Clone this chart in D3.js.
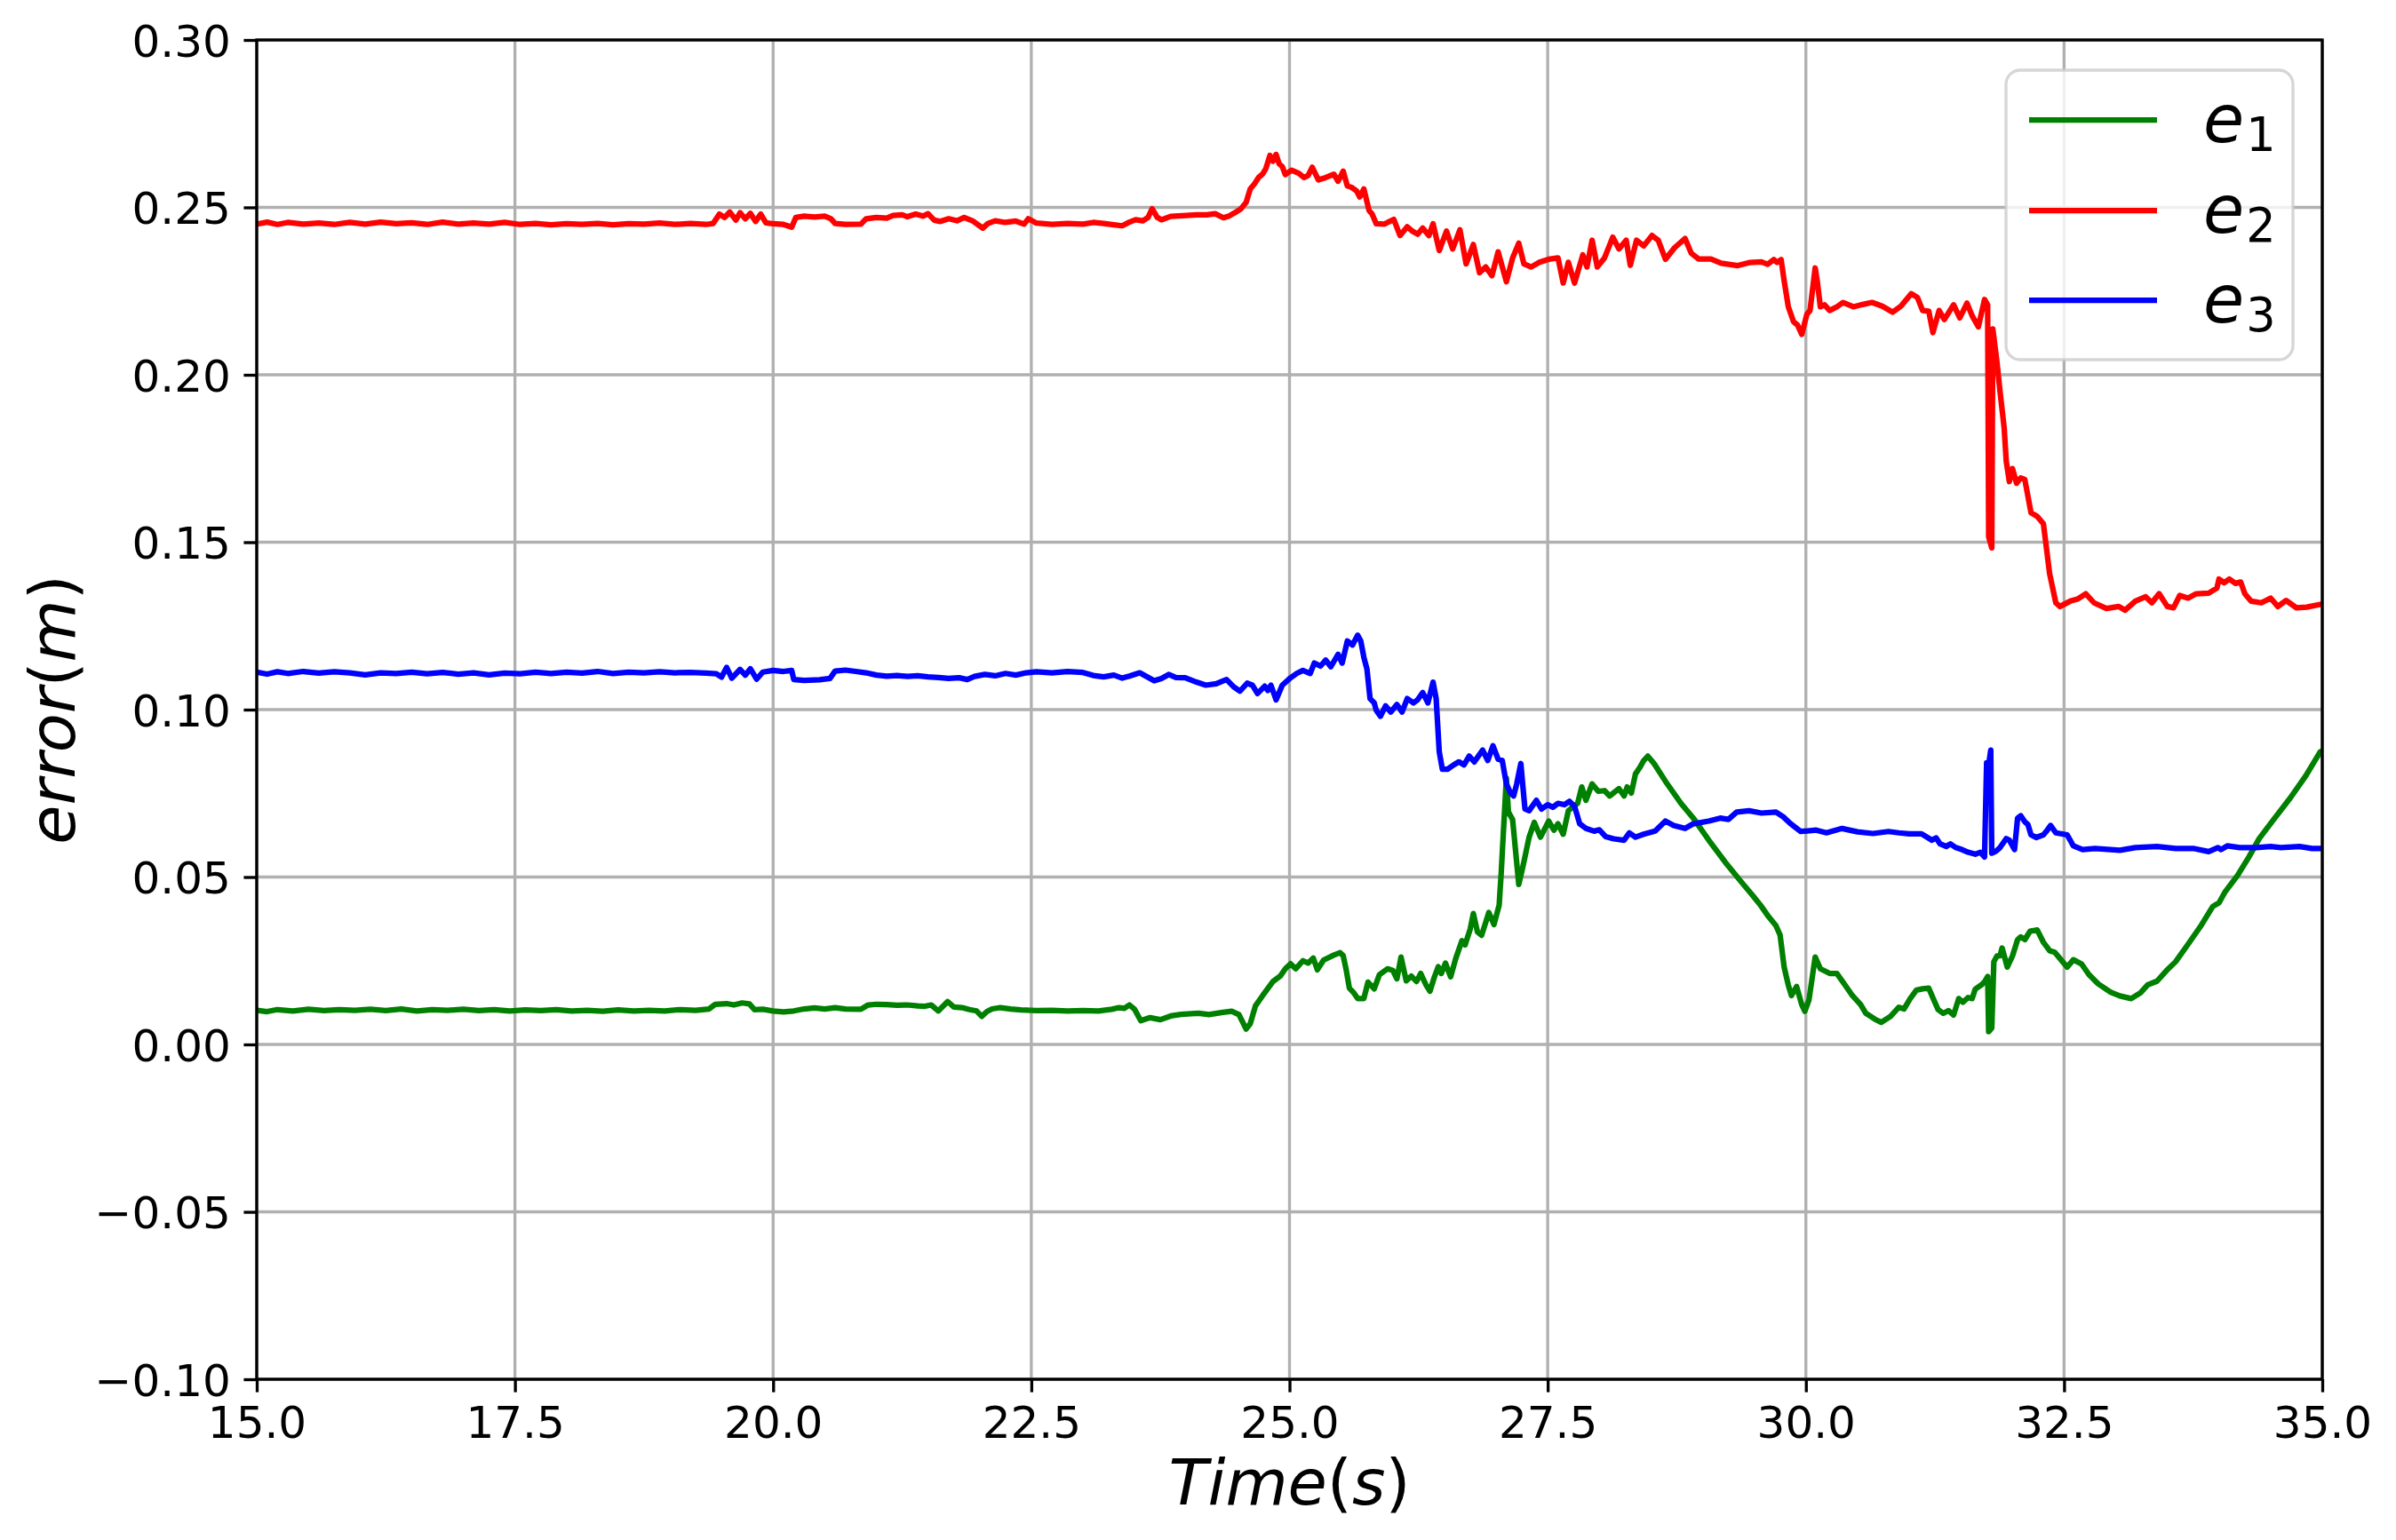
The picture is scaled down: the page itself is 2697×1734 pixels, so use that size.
<!DOCTYPE html>
<html>
<head>
<meta charset="utf-8">
<script src="https://cdn.jsdelivr.net/npm/d3@7"></script>
<style>
  html, body { margin: 0; padding: 0; background: #ffffff; }
  svg { display: block; }
</style>
</head>
<body>
<script>
// ---------------- DATA ----------------
const xTicks = [15.0, 17.5, 20.0, 22.5, 25.0, 27.5, 30.0, 32.5, 35.0];
const yTicks = [-0.10, -0.05, 0.00, 0.05, 0.10, 0.15, 0.20, 0.25, 0.30];
const seriesNames = ["e1", "e2", "e3"];
const seriesLabels = [["e", "1"], ["e", "2"], ["e", "3"]];
const seriesColors = ["#008000", "#ff0000", "#0000ff"];

// e1 (green): [time, error]
const e1Data = [
[15.0,0.0102],[15.1,0.0098],[15.2,0.0104],[15.35,0.0100],[15.5,0.0105],[15.65,0.0101],[15.8,0.0104],[15.95,0.0102],
[16.1,0.0105],[16.25,0.0101],[16.4,0.0106],[16.55,0.0100],[16.7,0.0104],[16.85,0.0102],[17.0,0.0105],[17.15,0.0101],
[17.3,0.0104],[17.45,0.0100],[17.6,0.0103],[17.75,0.0101],[17.9,0.0104],[18.05,0.0100],[18.2,0.0102],[18.35,0.0099],
[18.5,0.0103],[18.65,0.0100],[18.8,0.0102],[18.95,0.0100],[19.1,0.0104],[19.25,0.0102],[19.38,0.0106],[19.44,0.0120],
[19.55,0.0122],[19.62,0.0118],[19.7,0.0124],[19.77,0.0121],[19.82,0.0104],[19.9,0.0105],[20.0,0.0100],[20.1,0.0097],
[20.2,0.0100],[20.3,0.0106],[20.4,0.0109],[20.5,0.0106],[20.6,0.0110],[20.7,0.0106],[20.85,0.0105],[20.92,0.0118],
[21.0,0.0120],[21.1,0.0119],[21.2,0.0117],[21.3,0.0118],[21.4,0.0115],[21.47,0.0114],[21.53,0.0118],[21.6,0.0100],
[21.69,0.0128],[21.75,0.0112],[21.83,0.0110],[21.9,0.0104],[21.97,0.0100],[22.02,0.0084],[22.07,0.0098],[22.12,0.0106],
[22.2,0.0110],[22.3,0.0106],[22.4,0.0103],[22.55,0.0101],[22.7,0.0102],[22.85,0.0100],[23.0,0.0101],[23.15,0.0100],
[23.28,0.0105],[23.35,0.0110],[23.4,0.0108],[23.45,0.0118],[23.5,0.0105],[23.56,0.0071],[23.65,0.0080],[23.75,0.0074],
[23.85,0.0085],[23.95,0.0090],[24.05,0.0092],[24.12,0.0093],[24.22,0.0089],[24.34,0.0095],[24.44,0.0099],[24.51,0.0089],
[24.58,0.0046],[24.62,0.0062],[24.67,0.0115],[24.74,0.0146],[24.84,0.0188],[24.91,0.0204],[24.96,0.0226],[25.01,0.0241],
[25.06,0.0226],[25.13,0.0250],[25.18,0.0243],[25.23,0.0258],[25.27,0.0223],[25.33,0.0252],[25.43,0.0267],[25.49,0.0274],
[25.52,0.0265],[25.55,0.0221],[25.58,0.0168],[25.62,0.0155],[25.66,0.0137],[25.72,0.0137],[25.76,0.0186],[25.82,0.0166],
[25.87,0.0208],[25.95,0.0226],[26.0,0.0221],[26.04,0.0196],[26.08,0.0261],[26.13,0.0190],[26.18,0.0204],[26.23,0.0188],
[26.27,0.0212],[26.32,0.0179],[26.36,0.0159],[26.40,0.0199],[26.44,0.0232],[26.47,0.0212],[26.51,0.0243],[26.56,0.0202],
[26.61,0.0257],[26.67,0.0310],[26.70,0.0297],[26.75,0.0345],[26.78,0.0391],[26.82,0.0336],[26.86,0.0326],[26.93,0.0394],
[26.98,0.0358],[27.03,0.0416],[27.05,0.0513],[27.07,0.0628],[27.1,0.0795],[27.12,0.0694],[27.16,0.0672],[27.19,0.0575],
[27.22,0.0478],[27.26,0.0531],[27.32,0.0619],[27.37,0.0663],[27.43,0.0619],[27.51,0.0667],[27.56,0.0640],[27.6,0.0659],
[27.65,0.0628],[27.7,0.0698],[27.75,0.0711],[27.79,0.0720],[27.83,0.0769],[27.87,0.0729],[27.93,0.0778],[27.99,0.0756],
[28.05,0.0758],[28.1,0.0742],[28.19,0.0764],[28.24,0.0742],[28.27,0.0769],[28.31,0.0751],[28.35,0.0808],[28.39,0.0826],
[28.43,0.0848],[28.47,0.0861],[28.53,0.0839],[28.64,0.0786],[28.79,0.0720],[28.91,0.0676],[29.06,0.0610],[29.22,0.0544],
[29.37,0.0487],[29.49,0.0443],[29.56,0.0416],[29.64,0.0381],[29.71,0.0355],[29.75,0.0327],[29.79,0.0230],[29.83,0.0177],
[29.86,0.0146],[29.91,0.0173],[29.96,0.0119],[29.99,0.0099],[30.03,0.0133],[30.09,0.0261],[30.14,0.0226],[30.23,0.0212],
[30.3,0.0212],[30.38,0.0177],[30.45,0.0146],[30.53,0.0119],[30.58,0.0093],[30.67,0.0075],[30.73,0.0066],[30.82,0.0084],
[30.9,0.0111],[30.95,0.0106],[31.01,0.0137],[31.07,0.0162],[31.13,0.0166],[31.19,0.0168],[31.24,0.0132],[31.28,0.0104],
[31.33,0.0093],[31.38,0.0101],[31.43,0.0088],[31.48,0.0137],[31.52,0.0126],[31.57,0.0140],[31.61,0.0137],[31.64,0.0165],
[31.7,0.0178],[31.73,0.0187],[31.76,0.0203],[31.77,0.0038],[31.8,0.0049],[31.82,0.0247],[31.85,0.0264],[31.88,0.0265],
[31.9,0.0288],[31.95,0.0231],[32.0,0.0264],[32.05,0.0313],[32.08,0.0321],[32.12,0.0313],[32.17,0.0338],[32.24,0.0342],
[32.3,0.0305],[32.36,0.0280],[32.41,0.0275],[32.47,0.0253],[32.53,0.0231],[32.59,0.0253],[32.67,0.0240],[32.74,0.0209],
[32.83,0.0181],[32.95,0.0156],[33.04,0.0145],[33.15,0.0137],[33.24,0.0154],[33.31,0.0178],[33.4,0.0189],[33.49,0.0220],
[33.58,0.0247],[33.7,0.0299],[33.82,0.0352],[33.94,0.0412],[34.0,0.0423],[34.06,0.0456],[34.18,0.0505],[34.29,0.0560],
[34.39,0.0615],[34.54,0.0676],[34.69,0.0736],[34.84,0.0802],[34.98,0.0874],[35.0,0.0877]
];

// e2 (red)
const e2Data = [
[15.0,0.2450],[15.1,0.2456],[15.2,0.2449],[15.3,0.2455],[15.45,0.2450],[15.6,0.2453],[15.75,0.2449],[15.9,0.2455],
[16.05,0.2450],[16.2,0.2456],[16.35,0.2451],[16.5,0.2454],[16.65,0.2449],[16.8,0.2456],[16.95,0.2450],[17.1,0.2453],
[17.25,0.2450],[17.4,0.2455],[17.55,0.2449],[17.7,0.2452],[17.85,0.2448],[18.0,0.2451],[18.15,0.2449],[18.3,0.2452],
[18.45,0.2448],[18.6,0.2451],[18.75,0.2450],[18.9,0.2453],[19.05,0.2449],[19.2,0.2452],[19.35,0.2449],[19.42,0.2452],
[19.48,0.2480],[19.53,0.2470],[19.58,0.2486],[19.64,0.2462],[19.68,0.2484],[19.73,0.2466],[19.78,0.2482],[19.83,0.2458],
[19.88,0.2480],[19.93,0.2454],[20.0,0.2451],[20.1,0.2449],[20.18,0.2441],[20.22,0.2470],[20.3,0.2474],[20.4,0.2471],
[20.5,0.2474],[20.56,0.2466],[20.6,0.2452],[20.7,0.2449],[20.85,0.2450],[20.9,0.2466],[21.0,0.2470],[21.1,0.2468],
[21.16,0.2476],[21.25,0.2478],[21.3,0.2472],[21.38,0.2480],[21.45,0.2474],[21.5,0.2481],[21.56,0.2462],[21.62,0.2458],
[21.7,0.2466],[21.78,0.2460],[21.85,0.2470],[21.93,0.2460],[22.03,0.2438],[22.08,0.2452],[22.15,0.2460],[22.25,0.2455],
[22.35,0.2459],[22.43,0.2450],[22.47,0.2466],[22.55,0.2453],[22.7,0.2449],[22.85,0.2452],[23.0,0.2450],[23.1,0.2455],
[23.2,0.2452],[23.3,0.2448],[23.38,0.2445],[23.45,0.2456],[23.51,0.2463],[23.58,0.2460],[23.63,0.2470],[23.67,0.2496],
[23.72,0.2470],[23.76,0.2463],[23.85,0.2473],[24.0,0.2476],[24.1,0.2478],[24.2,0.2478],[24.28,0.2481],[24.36,0.2469],
[24.42,0.2475],[24.47,0.2484],[24.53,0.2496],[24.58,0.2515],[24.62,0.2555],[24.66,0.2570],[24.70,0.2589],[24.74,0.2600],
[24.77,0.2615],[24.81,0.2655],[24.84,0.2638],[24.87,0.2658],[24.9,0.2630],[24.93,0.2622],[24.96,0.2598],[25.02,0.2611],
[25.09,0.2602],[25.14,0.2589],[25.18,0.2595],[25.22,0.2620],[25.28,0.2582],[25.35,0.2589],[25.43,0.2599],[25.47,0.2578],
[25.52,0.2608],[25.56,0.2564],[25.6,0.2560],[25.65,0.2549],[25.68,0.2531],[25.72,0.2555],[25.77,0.2491],[25.8,0.2480],
[25.84,0.2451],[25.92,0.2450],[25.97,0.2458],[26.01,0.2464],[26.07,0.2416],[26.14,0.2442],[26.19,0.2429],[26.24,0.2420],
[26.29,0.2438],[26.35,0.2416],[26.39,0.2451],[26.45,0.2371],[26.52,0.2429],[26.58,0.2376],[26.65,0.2433],[26.71,0.2331],
[26.78,0.2389],[26.84,0.2305],[26.9,0.2322],[26.96,0.2296],[27.02,0.2367],[27.1,0.2278],[27.16,0.2349],[27.22,0.2393],
[27.27,0.2331],[27.34,0.2322],[27.42,0.2336],[27.51,0.2345],[27.6,0.2349],[27.65,0.2274],[27.7,0.2336],[27.76,0.2274],
[27.84,0.2358],[27.88,0.2322],[27.93,0.2402],[27.98,0.2322],[28.05,0.2349],[28.13,0.2411],[28.19,0.2376],[28.26,0.2402],
[28.30,0.2327],[28.36,0.2402],[28.43,0.2385],[28.51,0.2416],[28.57,0.2402],[28.64,0.2345],[28.73,0.2380],[28.83,0.2407],
[28.89,0.2363],[28.96,0.2346],[29.08,0.2346],[29.18,0.2333],[29.34,0.2326],[29.45,0.2335],[29.57,0.2337],[29.63,0.2330],
[29.69,0.2344],[29.72,0.2336],[29.76,0.2344],[29.79,0.2280],[29.83,0.2203],[29.88,0.2159],[29.92,0.2148],[29.96,0.2121],
[30.01,0.2181],[30.04,0.2192],[30.09,0.2319],[30.11,0.2280],[30.14,0.2203],[30.18,0.2209],[30.23,0.2192],[30.30,0.2203],
[30.36,0.2216],[30.46,0.2203],[30.55,0.2210],[30.64,0.2216],[30.74,0.2205],[30.84,0.2187],[30.92,0.2205],[31.02,0.2242],
[31.08,0.2231],[31.13,0.2192],[31.19,0.2190],[31.23,0.2126],[31.29,0.2192],[31.34,0.2165],[31.43,0.2209],[31.49,0.2170],
[31.56,0.2214],[31.61,0.2176],[31.67,0.2143],[31.73,0.2225],[31.76,0.2209],[31.77,0.1516],[31.80,0.1483],[31.81,0.2137],
[31.85,0.2038],[31.88,0.1950],[31.92,0.1841],[31.94,0.1742],[31.97,0.1681],[32.0,0.1720],[32.04,0.1676],[32.08,0.1692],
[32.12,0.1687],[32.18,0.1588],[32.24,0.1577],[32.3,0.1555],[32.36,0.1406],[32.42,0.1319],[32.46,0.1308],[32.56,0.1324],
[32.63,0.1330],[32.71,0.1346],[32.79,0.1319],[32.91,0.1302],[33.03,0.1308],[33.09,0.1297],[33.19,0.1324],[33.29,0.1337],
[33.35,0.1319],[33.42,0.1346],[33.5,0.1308],[33.56,0.1304],[33.62,0.1341],[33.7,0.1333],[33.78,0.1346],[33.9,0.1348],
[33.98,0.1363],[34.0,0.1390],[34.05,0.1379],[34.1,0.1390],[34.16,0.1377],[34.21,0.1381],[34.25,0.1346],[34.31,0.1324],
[34.41,0.1319],[34.5,0.1333],[34.57,0.1308],[34.65,0.1326],[34.75,0.1304],[34.85,0.1306],[34.96,0.1313],[35.0,0.1315]
];

// e3 (blue)
const e3Data = [
[15.0,0.1112],[15.1,0.1106],[15.2,0.1113],[15.3,0.1108],[15.45,0.1114],[15.6,0.1109],[15.75,0.1113],[15.9,0.1110],
[16.05,0.1104],[16.2,0.1110],[16.35,0.1108],[16.5,0.1112],[16.65,0.1107],[16.8,0.1111],[16.95,0.1106],[17.1,0.1110],
[17.25,0.1104],[17.4,0.1109],[17.55,0.1107],[17.7,0.1112],[17.85,0.1108],[18.0,0.1112],[18.15,0.1109],[18.3,0.1114],
[18.45,0.1108],[18.6,0.1112],[18.75,0.1110],[18.9,0.1113],[19.05,0.1110],[19.2,0.1111],[19.35,0.1109],[19.45,0.1107],
[19.5,0.1097],[19.55,0.1126],[19.6,0.1094],[19.68,0.1120],[19.73,0.1103],[19.78,0.1122],[19.84,0.1091],[19.9,0.1112],
[20.0,0.1117],[20.1,0.1114],[20.18,0.1117],[20.2,0.1090],[20.3,0.1087],[20.45,0.1089],[20.55,0.1093],[20.6,0.1115],
[20.7,0.1118],[20.8,0.1114],[20.9,0.1110],[21.0,0.1103],[21.1,0.1100],[21.2,0.1102],[21.3,0.1099],[21.4,0.1101],
[21.5,0.1098],[21.6,0.1096],[21.7,0.1093],[21.8,0.1095],[21.88,0.1090],[21.95,0.1099],[22.05,0.1105],[22.15,0.1101],
[22.25,0.1108],[22.35,0.1103],[22.45,0.1110],[22.55,0.1113],[22.7,0.1110],[22.85,0.1114],[23.0,0.1111],[23.1,0.1102],
[23.2,0.1098],[23.3,0.1103],[23.38,0.1094],[23.45,0.1100],[23.55,0.1110],[23.69,0.1086],[23.76,0.1093],[23.83,0.1105],
[23.9,0.1096],[23.99,0.1095],[24.1,0.1082],[24.19,0.1073],[24.29,0.1077],[24.39,0.1090],[24.46,0.1068],[24.52,0.1055],
[24.59,0.1079],[24.64,0.1073],[24.69,0.1048],[24.76,0.1070],[24.79,0.1057],[24.82,0.1073],[24.87,0.1029],[24.93,0.1073],
[25.01,0.1095],[25.07,0.1108],[25.13,0.1117],[25.2,0.1108],[25.24,0.1139],[25.3,0.1130],[25.35,0.1148],[25.4,0.1128],
[25.47,0.1165],[25.51,0.1139],[25.56,0.1205],[25.61,0.1193],[25.66,0.1222],[25.69,0.1205],[25.72,0.1156],[25.75,0.1121],
[25.78,0.1033],[25.82,0.1020],[25.84,0.0998],[25.88,0.0980],[25.93,0.1011],[25.98,0.0993],[26.04,0.1015],[26.09,0.0993],
[26.14,0.1033],[26.2,0.1020],[26.24,0.1029],[26.29,0.1051],[26.34,0.1020],[26.39,0.1082],[26.42,0.1033],[26.45,0.0874],
[26.48,0.0822],[26.53,0.0822],[26.59,0.0835],[26.64,0.0844],[26.69,0.0835],[26.74,0.0861],[26.79,0.0844],[26.87,0.0879],
[26.92,0.0848],[26.97,0.0892],[27.02,0.0852],[27.06,0.0848],[27.10,0.0778],[27.14,0.0751],[27.17,0.0742],[27.2,0.0778],
[27.24,0.0839],[27.26,0.0770],[27.28,0.0703],[27.32,0.0698],[27.39,0.0729],[27.44,0.0703],[27.5,0.0716],[27.55,0.0708],
[27.6,0.0720],[27.66,0.0716],[27.71,0.0726],[27.76,0.0711],[27.81,0.0659],[27.87,0.0645],[27.95,0.0637],[28.0,0.0641],
[28.06,0.0621],[28.14,0.0614],[28.24,0.0610],[28.29,0.0632],[28.35,0.0619],[28.43,0.0628],[28.54,0.0637],[28.64,0.0667],
[28.72,0.0654],[28.83,0.0645],[28.91,0.0659],[29.06,0.0667],[29.17,0.0676],[29.25,0.0672],[29.33,0.0694],[29.45,0.0698],
[29.57,0.0691],[29.71,0.0694],[29.78,0.0680],[29.85,0.0660],[29.95,0.0636],[30.1,0.0640],[30.2,0.0632],[30.35,0.0645],
[30.5,0.0635],[30.65,0.0630],[30.8,0.0636],[30.9,0.0632],[31.0,0.0629],[31.12,0.0629],[31.22,0.0610],[31.26,0.0617],
[31.3,0.0599],[31.36,0.0591],[31.4,0.0599],[31.45,0.0588],[31.51,0.0582],[31.57,0.0574],[31.64,0.0568],[31.69,0.0574],
[31.73,0.0560],[31.75,0.0841],[31.77,0.0836],[31.79,0.0879],[31.8,0.0571],[31.84,0.0577],[31.88,0.0588],[31.94,0.0615],
[31.97,0.0610],[32.02,0.0582],[32.05,0.0676],[32.08,0.0683],[32.12,0.0665],[32.15,0.0657],[32.18,0.0626],[32.23,0.0618],
[32.3,0.0626],[32.33,0.0637],[32.37,0.0654],[32.42,0.0632],[32.53,0.0626],[32.59,0.0593],[32.68,0.0582],[32.8,0.0585],
[33.04,0.0580],[33.19,0.0588],[33.4,0.0591],[33.58,0.0585],[33.76,0.0585],[33.9,0.0576],[33.99,0.0588],[34.02,0.0582],
[34.08,0.0593],[34.2,0.0588],[34.36,0.0588],[34.5,0.0591],[34.6,0.0588],[34.78,0.0591],[34.9,0.0585],[35.0,0.0585]
];

const allSeries = [e1Data, e2Data, e3Data];

// ---------------- LAYOUT ----------------
const W = 2697, H = 1734;
const plot = { left: 289, right: 2614, top: 45, bottom: 1553 };
const PT = 300 / 72;               // px per point at 300 dpi
const tickLen = 3.5 * PT, tickW = 0.8 * PT, tickPad = 3.5 * PT;
const tickFont = 50, labelFont = 72, legendFont = 75;

const svg = d3.select("body").append("svg")
  .attr("width", W).attr("height", H)
  .attr("font-family", "'DejaVu Sans', sans-serif");

svg.append("rect").attr("width", W).attr("height", H).attr("fill", "#ffffff");

const x = d3.scaleLinear().domain([15, 35]).range([plot.left, plot.right]);
const y = d3.scaleLinear().domain([-0.10, 0.30]).range([plot.bottom, plot.top]);

// clip
svg.append("defs").append("clipPath").attr("id", "plotClip")
  .append("rect")
  .attr("x", plot.left).attr("y", plot.top)
  .attr("width", plot.right - plot.left).attr("height", plot.bottom - plot.top);

// grid
const grid = svg.append("g").attr("stroke", "#b0b0b0").attr("stroke-width", 0.8 * PT);
grid.selectAll("line.vx").data(xTicks).join("line")
  .attr("x1", d => x(d)).attr("x2", d => x(d))
  .attr("y1", plot.top).attr("y2", plot.bottom);
grid.selectAll("line.hy").data(yTicks).join("line")
  .attr("y1", d => y(d)).attr("y2", d => y(d))
  .attr("x1", plot.left).attr("x2", plot.right);

// lines
const line = d3.line().x(d => x(d[0])).y(d => y(d[1]));
const linesG = svg.append("g").attr("clip-path", "url(#plotClip)");
allSeries.forEach((data, i) => {
  linesG.append("path")
    .datum(data)
    .attr("d", line)
    .attr("fill", "none")
    .attr("stroke", seriesColors[i])
    .attr("stroke-width", 1.5 * PT)
    .attr("stroke-linejoin", "round")
    .attr("stroke-linecap", "square");
});

// axes
const fmtY = v => {
  const s = d3.format(".2f")(Math.abs(v) < 1e-9 ? 0 : v);
  return s.replace("-", "\u2212");
};
const xAxis = d3.axisBottom(x).tickValues(xTicks).tickFormat(d3.format(".1f"))
  .tickSize(tickLen).tickSizeOuter(0);
const yAxis = d3.axisLeft(y).tickValues(yTicks).tickFormat(fmtY)
  .tickSize(tickLen).tickSizeOuter(0);

const gx = svg.append("g").attr("transform", `translate(0,${plot.bottom})`).call(xAxis);
const gy = svg.append("g").attr("transform", `translate(${plot.left},0)`).call(yAxis);
[gx, gy].forEach(g => {
  g.select(".domain").remove();
  g.selectAll(".tick line").attr("stroke", "#000").attr("stroke-width", tickW);
  g.selectAll(".tick text")
    .attr("fill", "#000")
    .attr("font-size", tickFont)
    .attr("font-family", "'DejaVu Sans', sans-serif");
});
gx.selectAll(".tick text").attr("y", tickLen + tickPad + 0.729 * tickFont).attr("dy", null);
gy.selectAll(".tick text").attr("x", -(tickLen + tickPad)).attr("dy", "0.36em");

// spines
svg.append("rect")
  .attr("x", plot.left).attr("y", plot.top)
  .attr("width", plot.right - plot.left).attr("height", plot.bottom - plot.top)
  .attr("fill", "none").attr("stroke", "#000").attr("stroke-width", 0.8 * PT)
  .attr("stroke-linecap", "square");

// axis labels (mathtext italic letters, upright parentheses)
function mathLabel(sel, parts) {
  parts.forEach(p => {
    sel.append("tspan").attr("font-style", p.it ? "italic" : "normal").text(p.t);
  });
}
const xl = svg.append("text")
  .attr("x", (plot.left + plot.right) / 2).attr("y", 1694)
  .attr("text-anchor", "middle").attr("font-size", labelFont).attr("fill", "#000");
mathLabel(xl, [{t: "Time", it: true}, {t: "(", it: false}, {t: "s", it: true}, {t: ")", it: false}]);

const yl = svg.append("text")
  .attr("transform", `translate(84,${(plot.top + plot.bottom) / 2}) rotate(-90)`)
  .attr("text-anchor", "middle").attr("font-size", labelFont).attr("fill", "#000");
mathLabel(yl, [{t: "error", it: true}, {t: "(", it: false}, {t: "m", it: true}, {t: ")", it: false}]);

// legend
const leg = { x: 2258, y: 79, w: 323, h: 326 };
const lg = svg.append("g");
lg.append("rect")
  .attr("x", leg.x).attr("y", leg.y).attr("width", leg.w).attr("height", leg.h)
  .attr("rx", 16).attr("ry", 16)
  .attr("fill", "#ffffff").attr("fill-opacity", 0.8)
  .attr("stroke", "#cccccc").attr("stroke-opacity", 0.8).attr("stroke-width", 0.8 * PT);
const rowY = [135, 237, 338];
seriesNames.forEach((name, i) => {
  lg.append("line")
    .attr("x1", 2284).attr("x2", 2428)
    .attr("y1", rowY[i]).attr("y2", rowY[i])
    .attr("stroke", seriesColors[i]).attr("stroke-width", 1.5 * PT);
  const t = lg.append("text")
    .attr("x", 2480).attr("y", rowY[i] + 25)
    .attr("font-size", legendFont).attr("fill", "#000");
  t.append("tspan").attr("font-style", "italic").text(seriesLabels[i][0]);
  t.append("tspan").attr("font-size", legendFont * 0.7).attr("dy", 10).attr("dx", 2).text(seriesLabels[i][1]);
});
</script>
</body>
</html>
